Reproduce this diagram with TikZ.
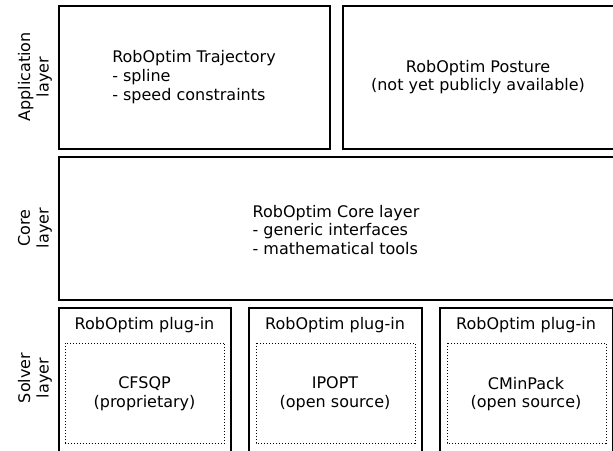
\documentclass[tikz,border=0pt]{standalone}
\usepackage{fontspec}
\setmainfont{DejaVu Sans}

\begin{document}
\begin{tikzpicture}[x=0.5pt,y=-0.5pt,
        layerbox/.style={line width=1pt},
        solverbox/.style={line width=0.5pt, densely dotted},
        txt/.style={font=\fontsize{8}{9.3}\selectfont, inner sep=0pt, align=center},
        sidetxt/.style={txt, rotate=90}]
        \useasboundingbox (0,0) rectangle (613,450);
        \clip (0,0) rectangle (613,450);

        \coordinate (A) at (58.5,5.5);
        \coordinate (B) at (330,149);
        \coordinate (C) at (342.5,5.5);
        \coordinate (D) at (614,149);
        \coordinate (E) at (58.5,157);
        \coordinate (F) at (614,300);

        % application layer
        \draw[layerbox] (A) rectangle (B);
        \draw[layerbox] (C) rectangle (D);
        \node[txt, align=left] (traj) at (194,77) {RobOptim Trajectory\\- spline\\- speed constraints};
        \node[txt] (posture) at (478,77) {RobOptim Posture\\(not yet publicly available)};

        % core layer
        \draw[layerbox] (E) rectangle (F);
        \node[txt, align=left] (core) at (336,230) {RobOptim Core layer\\- generic interfaces\\- mathematical tools};

        % solver layer
        \foreach \x/\solver/\lic/\id in {58.5/CFSQP/proprietary/cfsqp,
                249/IPOPT/open source/ipopt,
                440/CMinPack/open source/cminpack}
        {
            \draw[layerbox] (\x,458) -- (\x,307.5) -- ++(172.5,0) -- ++(0,150.5);
            \draw[solverbox] (\x+7,343) rectangle ++(159,100);
            \node[txt] (plugin-\id) at (\x+86,325) {RobOptim plug-in};
            \node[txt] (\id) at (\x+86,394) {\solver\\(\lic)};
        }

        \node[sidetxt] (app-label) at (35,77) {Application\\layer};
        \node[sidetxt] (core-label) at (35,228) {Core\\layer};
        \node[sidetxt] (solver-label) at (35,378) {Solver\\layer};

    \end{tikzpicture}
\end{document}
